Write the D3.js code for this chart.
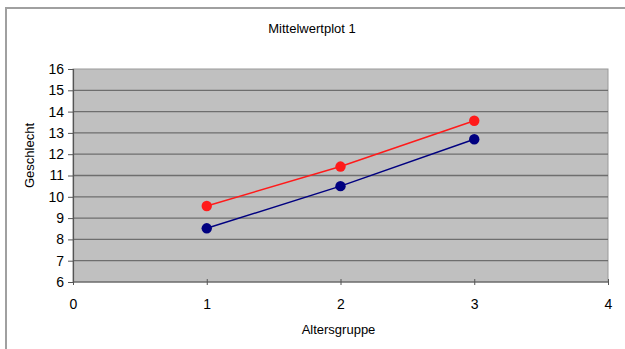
<!DOCTYPE html>
<html>
<head>
<meta charset="utf-8">
<script src="https://cdn.jsdelivr.net/npm/d3@7"></script>
<style>
  body { margin: 0; background: #fff; }
  text { font-family: "Liberation Sans", Arial, sans-serif; fill: #000; }
</style>
</head>
<body>
<div id="chart"></div>
<script>
// data
var groups = [1, 2, 3];
var redValues = [9.57, 11.42, 13.57];
var blueValues = [8.52, 10.5, 12.7];
var xTicks = [0, 1, 2, 3, 4];
var yTicks = [6, 7, 8, 9, 10, 11, 12, 13, 14, 15, 16];

var width = 625, height = 349;
var margin = {top: 69, right: 17, bottom: 67, left: 73};
var plotW = width - margin.left - margin.right;
var plotH = height - margin.top - margin.bottom;

var svg = d3.select("#chart").append("svg")
    .attr("width", width)
    .attr("height", height);

// outer chart frame (only top and left visible in the picture)
svg.append("path")
    .attr("d", "M6,349 L6,8 L625,8")
    .attr("fill", "none")
    .attr("stroke", "#a0a0a0")
    .attr("stroke-width", 2);

svg.append("text")
    .attr("x", 312)
    .attr("y", 33)
    .attr("text-anchor", "middle")
    .style("font-size", "13px")
    .text("Mittelwertplot 1");

var g = svg.append("g")
    .attr("transform", "translate(" + margin.left + "," + margin.top + ")");

var x = d3.scaleLinear().domain([0, 4]).range([0, plotW]);
var y = d3.scaleLinear().domain([6, 16]).range([plotH, 0]);

// plot area
g.append("rect")
    .attr("width", plotW)
    .attr("height", plotH)
    .attr("fill", "#c0c0c0")
    .attr("stroke", "#9a9a9a")
    .attr("stroke-width", 1);

// horizontal gridlines
g.selectAll("line.grid")
    .data(yTicks.slice(1, -1))
    .enter()
    .append("line")
    .attr("class", "grid")
    .attr("x1", 0)
    .attr("x2", plotW)
    .attr("y1", function (d) { return y(d); })
    .attr("y2", function (d) { return y(d); })
    .attr("stroke", "#6e6e6e")
    .attr("stroke-width", 1.3);

// axes
var yAxis = g.append("g")
    .call(d3.axisLeft(y).tickValues(yTicks).tickFormat(d3.format("d")).tickSize(5).tickPadding(4));
var xAxis = g.append("g")
    .attr("transform", "translate(0," + plotH + ")")
    .call(d3.axisBottom(x).tickValues(xTicks).tickFormat(d3.format("d")).tickSize(5).tickPadding(12));

[yAxis, xAxis].forEach(function (a) {
    a.select(".domain").attr("stroke", "#555").attr("stroke-width", 1.2);
    a.selectAll(".tick line").attr("stroke", "#555");
    a.selectAll(".tick text").style("font-size", "14px").attr("fill", "#000");
});
xAxis.select(".domain").attr("d", "M0,0H" + plotW);
xAxis.selectAll(".tick line").attr("y1", -3).attr("y2", 3);

// axis titles
svg.append("text")
    .attr("x", margin.left + plotW / 2 - 2)
    .attr("y", 334)
    .attr("text-anchor", "middle")
    .style("font-size", "13px")
    .text("Altersgruppe");

svg.append("text")
    .attr("transform", "translate(34," + (margin.top + plotH / 2 - 20) + ") rotate(-90)")
    .attr("text-anchor", "middle")
    .style("font-size", "13px")
    .text("Geschlecht");

// series
var series = [
    {values: redValues, color: "#ff1a1a"},
    {values: blueValues, color: "#000080"}
];

var line = d3.line()
    .x(function (d) { return x(d.g); })
    .y(function (d) { return y(d.v); });

series.forEach(function (s) {
    var pts = groups.map(function (gr, i) { return {g: gr, v: s.values[i]}; });
    g.append("path")
        .datum(pts)
        .attr("d", line)
        .attr("fill", "none")
        .attr("stroke", s.color)
        .attr("stroke-width", 1.5);
    g.selectAll(null)
        .data(pts)
        .enter()
        .append("circle")
        .attr("cx", function (d) { return x(d.g); })
        .attr("cy", function (d) { return y(d.v); })
        .attr("r", 5.2)
        .attr("fill", s.color);
});
</script>
</body>
</html>
